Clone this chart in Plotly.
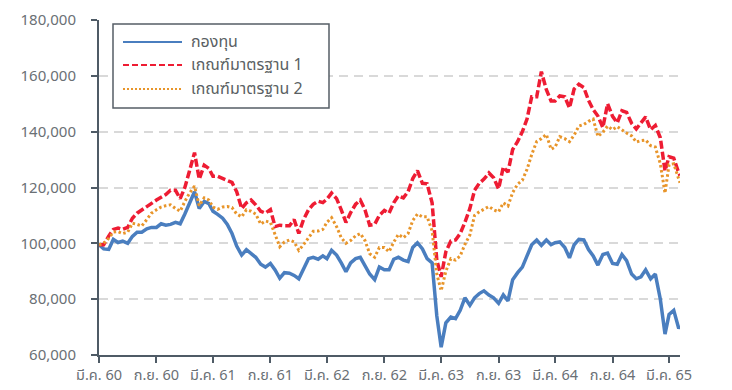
import pandas as pd
import plotly.graph_objects as go

# Semi-monthly observations (1st and 16th of each month), Mar 2017 - Apr 2022
months = pd.date_range("2017-03-01", "2022-04-01", freq="MS")
dates = [d for m in months for d in (m, m + pd.Timedelta(days=15))][:-1]
dates = [d.strftime("%Y-%m-%d") for d in dates] + ["2022-04-05"]

fund = [
    99500, 98000, 97800, 101400, 100300, 100800, 100000, 102500, 104000, 104000,
    105200, 105700, 105700, 107000, 106500, 106800, 107500, 107000, 110500, 114500,
    118500, 112500, 115000, 114200, 111500, 110400, 109000, 106800, 103500, 99000,
    95800, 97700, 96500, 95000, 92500, 91500, 92800, 90500, 87500, 89500,
    89300, 88500, 87300, 90800, 94500, 95000, 94300, 95500, 94500, 97500,
    95800, 93000, 89800, 93000, 94500, 95000, 92000, 89000, 87000, 91500,
    90500, 90500, 94300, 95000, 94000, 93500, 98500, 100200, 98000, 94500,
    93000, 74000, 62800, 71500, 73600, 73000, 76000, 80500, 77800, 80500,
    82000, 83000, 81500, 80500, 78500, 81500, 79400, 87000, 89500, 91500,
    95500, 99500, 101200, 99300, 101200, 99500, 100200, 100500, 98500, 94800,
    99500, 101400, 101200, 97800, 95500, 92200, 96000, 96500, 92800, 92500,
    96000, 93800, 89000, 87300, 88000, 90500, 87300, 89000, 80000, 67500,
    74500, 76000, 69500, 70500,
]

bench1 = [
    99500, 99500, 102600, 105000, 105500, 105000, 105700, 109000, 110800, 112000,
    113000, 114500, 115500, 116500, 117500, 119000, 119000, 116000, 120000, 126000,
    132500, 123000, 128000, 126800, 124000, 124000, 123200, 122500, 121800, 118500,
    112500, 114500, 115500, 113800, 111500, 110800, 112100, 106000, 106500, 106300,
    106300, 108500, 103500, 108500, 112000, 114000, 115100, 114600, 115800, 118000,
    116000, 112000, 107500, 111000, 114000, 115500, 112000, 106500, 106800, 110000,
    111800, 110800, 114500, 117000, 116300, 118500, 123200, 126000, 121500, 121300,
    114500, 94000, 88000, 97000, 100800, 101200, 103500, 107500, 112500, 119000,
    121500, 123000, 125200, 123500, 119500, 127300, 125500, 133600, 136500, 140000,
    144500, 152500, 152500, 161500, 155000, 151000, 151000, 152800, 152500, 148500,
    155300, 157000, 155800, 151200, 147900, 145600, 141500, 150000, 145500, 143200,
    147500, 146900, 143000, 141000, 143300, 145300, 140700, 142200, 137800, 126000,
    131000, 130500, 125200, 124300,
]

bench2 = [
    99500, 100000, 101800, 104000, 104200, 103500, 104000, 107200, 106800, 106200,
    108500, 110800, 112000, 113000, 113500, 113800, 112500, 111500, 115000, 118000,
    120500, 113500, 116300, 115500, 113000, 112200, 113000, 113200, 112800, 110500,
    109500, 112000, 111500, 110500, 106900, 108000, 107500, 103000, 98800, 100500,
    101200, 100500, 97500, 99500, 101800, 104300, 104400, 105000, 107500, 109200,
    106000, 102000, 100000, 101000, 102700, 103500, 101000, 96300, 95000, 98500,
    98500, 97000, 100400, 103200, 102000, 103500, 108200, 110500, 109500, 109500,
    104500, 89000, 83000, 90000, 94500, 94000, 95500, 99600, 103000, 110000,
    111300, 112300, 113200, 112000, 111300, 114500, 113400, 118200, 121200, 122600,
    126500, 131800, 136500, 137500, 139000, 133700, 134500, 138200, 137500, 136400,
    138800, 142000, 142600, 143700, 144500, 138300, 139800, 142000, 140700, 141800,
    140500, 139500, 138500, 136300, 136800, 137000, 135000, 134500, 128500, 118000,
    128200, 128500, 123000, 121700,
]

series_names = ["กองทุน", "เกณฑ์มาตรฐาน 1", "เกณฑ์มาตรฐาน 2"]

tick_dates = ["2017-03-01", "2017-09-01", "2018-03-01", "2018-09-01", "2019-03-01",
              "2019-09-01", "2020-03-01", "2020-09-01", "2021-03-01", "2021-09-01",
              "2022-03-01"]
tick_labels = ["มี.ค. 60", "ก.ย. 60", "มี.ค. 61", "ก.ย. 61", "มี.ค. 62",
               "ก.ย. 62", "มี.ค. 63", "ก.ย. 63", "มี.ค. 64", "ก.ย. 64",
               "มี.ค. 65"]

BLUE = "#4a7ebf"
RED = "#ee1c33"
ORANGE = "#e8952a"
AXIS = "#4f5b66"
TEXT = "#6a7075"
FONT = "Noto Sans Thai, Noto Sans, DejaVu Sans, sans-serif"

styles = [
    dict(color=BLUE, width=3.5, dash="solid"),
    dict(color=RED, width=3.5, dash="8px,3px"),
    dict(color=ORANGE, width=3, dash="2.5px,2.5px"),
]

fig = go.Figure()
for name, vals, st in zip(series_names, [fund, bench1, bench2], styles):
    fig.add_trace(go.Scatter(x=dates, y=vals, mode="lines", name=name,
                             line=st, showlegend=False))

# Plot-area geometry in pixels (used to place the boxed legend)
W, H = 732, 390
L, R, T, B = 99, 680, 20, 355


def px_x(x):
    return (x - L) / (R - L)


def px_y(y):
    return (B - y) / (B - T)


legend_styles = [
    dict(color=BLUE, width=2, dash="solid"),
    dict(color=RED, width=2, dash="6px,3px"),
    dict(color=ORANGE, width=2, dash="2px,2px"),
]

shapes = [dict(type="rect", xref="paper", yref="paper",
               x0=px_x(113), x1=px_x(329), y0=px_y(24), y1=px_y(108),
               line=dict(color="#555e66", width=1.5), fillcolor="white",
               layer="above")]
annotations = []
row_y = [42, 65, 89]
for name, st, ry in zip(series_names, legend_styles, row_y):
    shapes.append(dict(type="line", xref="paper", yref="paper",
                       x0=px_x(123), x1=px_x(182), y0=px_y(ry), y1=px_y(ry),
                       line=st, layer="above"))
    annotations.append(dict(xref="paper", yref="paper", x=px_x(189), y=px_y(ry),
                            text=name, showarrow=False, xanchor="left",
                            yanchor="middle",
                            font=dict(family=FONT, size=16, color="#5a5f63")))

fig.update_layout(
    width=W, height=H,
    margin=dict(l=L, r=W - R, t=T, b=H - B, autoexpand=False),
    paper_bgcolor="white", plot_bgcolor="white",
    font=dict(family=FONT, size=15, color=TEXT),
    shapes=shapes, annotations=annotations,
    showlegend=False,
)
fig.update_xaxes(
    type="date", range=["2017-03-01", "2022-04-05"],
    tickmode="array", tickvals=tick_dates, ticktext=tick_labels,
    ticks="outside", ticklen=6, tickwidth=2, tickcolor=AXIS,
    showline=True, linewidth=2, linecolor=AXIS, automargin=False,
    showgrid=False, zeroline=False, ticklabelstandoff=0,
    tickfont=dict(size=14.5, color=TEXT),
)
fig.update_yaxes(
    range=[60000, 180000], dtick=20000, tick0=60000, tickformat=",d",
    ticks="outside", ticklen=6, tickwidth=2, tickcolor=AXIS,
    showline=True, linewidth=2, linecolor=AXIS, automargin=False,
    showgrid=True, gridcolor="#d9d9d9", gridwidth=2, griddash="9px,6px",
    zeroline=False, ticklabelstandoff=12,
    tickfont=dict(size=15, color=TEXT),
)

fig.write_html("out.html")
